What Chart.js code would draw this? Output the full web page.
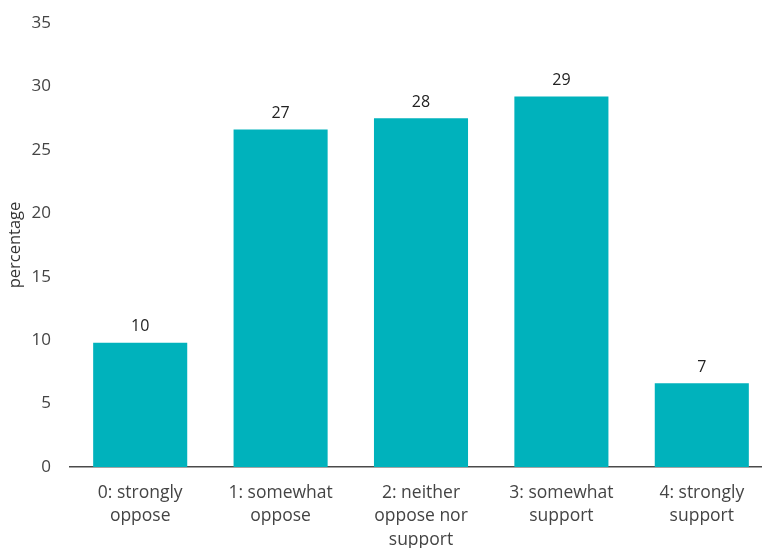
<!DOCTYPE html>
<html>
<head>
<meta charset="utf-8">
<script src="https://cdn.jsdelivr.net/npm/chart.js@4"></script>
<style>
  html, body { margin: 0; padding: 0; overflow: hidden; background: #fff; width: 762px; height: 548px; }
  canvas { display: block; }
</style>
</head>
<body>
<canvas id="c" width="772" height="548"></canvas>
<script>
const categories = [
  ["0: strongly", "oppose"],
  ["1: somewhat", "oppose"],
  ["2: neither", "oppose nor", "support"],
  ["3: somewhat", "support"],
  ["4: strongly", "support"]
];
const values = [9.8, 26.6, 27.5, 29.2, 6.6];
const yTicks = [0, 5, 10, 15, 20, 25, 30, 35];

const FONT = "'Open Sans', Lato, sans-serif";

const valueLabels = {
  id: 'valueLabels',
  afterDatasetsDraw(chart) {
    const ctx = chart.ctx;
    const meta = chart.getDatasetMeta(0);
    ctx.save();
    ctx.font = "16px " + FONT;
    ctx.fillStyle = "#222";
    ctx.textAlign = "center";
    ctx.textBaseline = "middle";
    meta.data.forEach((bar, i) => {
      ctx.fillText(String(Math.round(values[i])), bar.x, bar.y - 16);
    });
    ctx.restore();
  }
};

new Chart(document.getElementById('c'), {
  type: 'bar',
  data: {
    labels: categories,
    datasets: [{
      data: values,
      backgroundColor: '#00b2bc',
      borderWidth: 0,
      barPercentage: 0.67,
      categoryPercentage: 1.0
    }]
  },
  options: {
    responsive: false,
    animation: false,
    layout: { padding: { top: 23, right: 0, left: 0, bottom: 0 } },
    plugins: { legend: { display: false }, tooltip: { enabled: false } },
    scales: {
      x: {
        grid: { display: false, drawTicks: false },
        border: { display: true, color: '#4a4a4a', width: 1.5 },
        ticks: {
          color: '#444',
          font: { family: FONT, size: 17.5, lineHeight: 1.34 },
          padding: 14,
          maxRotation: 0,
          autoSkip: false
        },
        afterFit(scale) { scale.height = 81; }
      },
      y: {
        min: 0,
        max: 35,
        afterBuildTicks(scale) { scale.ticks = yTicks.map(v => ({ value: v })); },
        grid: { display: false, drawTicks: false },
        border: { display: false },
        ticks: {
          color: '#444',
          font: { family: FONT, size: 17 },
          padding: 19
        },
        title: {
          display: true,
          text: 'percentage',
          color: '#333',
          font: { family: FONT, size: 16.5 },
          padding: { top: 5, bottom: 0 }
        },
        afterFit(scale) {
          scale.width = 70;
          scale.paddingTop = 0;
          scale.paddingBottom = 0;
        }
      }
    }
  },
  plugins: [valueLabels]
});
</script>
</body>
</html>
